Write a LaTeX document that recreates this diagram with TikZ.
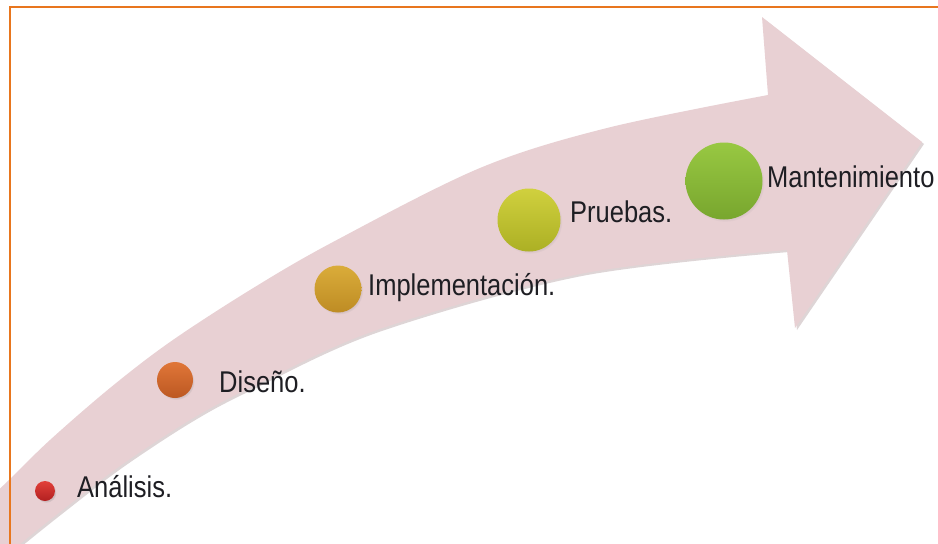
\documentclass[tikz,border=0pt]{standalone}
\usepackage{fontspec}
\setmainfont{Liberation Sans}
\usetikzlibrary{shadows}
\definecolor{arrowpink}{RGB}{232,208,211}
\definecolor{arrowshade}{RGB}{200,185,188}
\definecolor{frameorange}{RGB}{232,118,30}
\definecolor{labeltext}{RGB}{30,30,35}
\tikzset{
  ball/.style={circle, draw=none, inner sep=0pt, minimum size=#1,
    circular drop shadow={shadow xshift=1.2pt, shadow yshift=-1.6pt, opacity=0.25, shadow scale=1.02}},
  lbl/.style={anchor=base west, inner sep=0pt, text=labeltext,
    font=\fontsize{30}{30}\selectfont},
}
\newcommand\narrowtext[1]{\scalebox{0.85}[1]{#1}}
\newcommand\arrowpathX{plot[smooth, tension=0.55] coordinates {(-12,500) (10,479) (50,440) (110,388) (170,342) (250,290) (333,242) (480,168) (607,128) (768,95)} -- (762,17) -- (922,142) -- (795,328) -- (787,250) -- plot[smooth, tension=0.55] coordinates {(787,250) (580,274) (377,330) (250,388) (190,420) (120,466) (60,512) (20,544) (-12,570)} -- cycle}
\begin{document}
\begin{tikzpicture}[x=1pt, y=-1pt]
  \useasboundingbox (0,0) rectangle (938,544);
  \fill[white] (0,0) rectangle (938,544);
  \begin{scope}
    \clip (0,0) rectangle (938,544);
    % arrow with a soft shadow
    \fill[arrowshade, opacity=0.6, shift={(2,2)}] \arrowpathX;
    \fill[arrowpink] \arrowpathX;
    % frame (only top and left edges are visible)
    \draw[frameorange, line width=2.4pt] (10,560) -- (10,7) -- (950,7);
  \end{scope}
  % stage balls
  \node[ball=20pt, top color={rgb,255:red,226;green,64;blue,58}, bottom color={rgb,255:red,178;green,32;blue,32}] (c1) at (45,491) {};
  \node[ball=36pt, top color={rgb,255:red,224;green,118;blue,56}, bottom color={rgb,255:red,188;green,88;blue,34}] (c2) at (175,380) {};
  \node[ball=47pt, top color={rgb,255:red,218;green,172;blue,58}, bottom color={rgb,255:red,190;green,140;blue,36}] (c3) at (338,289) {};
  \node[ball=63pt, top color={rgb,255:red,208;green,208;blue,62}, bottom color={rgb,255:red,172;green,176;blue,36}] (c4) at (529,220) {};
  \node[ball=77pt, top color={rgb,255:red,152;green,200;blue,66}, bottom color={rgb,255:red,120;green,166;blue,46}] (c5) at (724,181) {};
  % labels
  \node[lbl] (t1) at (77,497) {\narrowtext{Análisis.}};
  \node[lbl] (t2) at (219,392) {\narrowtext{Diseño.}};
  \node[lbl] (t3) at (368,295) {\narrowtext{Implementación.}};
  \node[lbl] (t4) at (570,222) {\narrowtext{Pruebas.}};
  \node[lbl] (t5) at (767,187) {\narrowtext{Mantenimiento}};
\end{tikzpicture}
\end{document}
